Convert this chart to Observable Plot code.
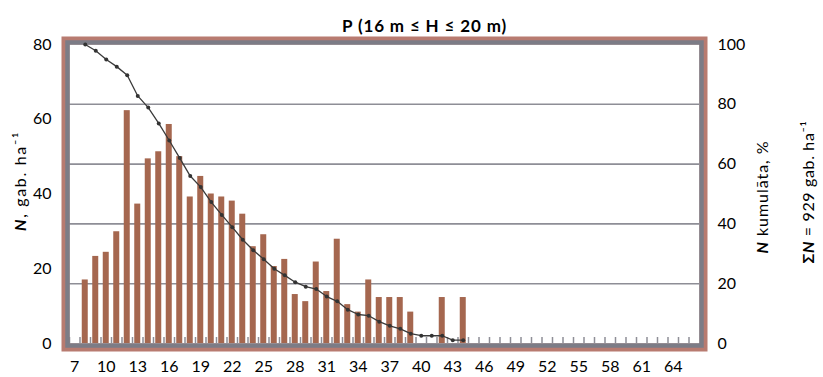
<!DOCTYPE html>
<html><head><meta charset="utf-8">
<script src="https://cdn.jsdelivr.net/npm/d3@7"></script>
<script src="https://cdn.jsdelivr.net/npm/@observablehq/plot@0.6"></script>
<style>
html,body{margin:0;padding:0;background:#fff;}
#chart svg{display:block;}
</style></head><body><div id="chart"></div>
<script>
// Categories (diameter classes, cm) shown on the x axis
const categories = d3.range(7, 67);
const xTickLabels = [7,10,13,16,19,22,25,28,31,34,37,40,43,46,49,52,55,58,61,64];
// Diameter classes with observations
const diameters = [8,9,10,11,12,13,14,15,16,17,18,19,20,21,22,23,24,25,26,27,28,29,30,31,32,33,34,35,36,37,38,39,40,41,42,43,44];
// N, trees per ha (bars)
const countN = [17.0,23.3,24.4,29.9,62.3,37.3,49.4,51.3,58.6,50.0,39.2,44.7,40.0,39.2,38.1,34.6,25.9,29.1,20.6,22.5,13.1,11.2,21.8,13.9,27.9,10.4,8.4,17.0,12.3,12.3,12.3,8.4,0,0,12.3,0,12.3];
// cumulative N, % (line)
const cumulativePct = [100,97.9,95.0,92.6,89.7,82.8,78.9,73.6,67.9,62.0,56.0,52.3,47.3,43.0,38.9,34.7,31.2,28.2,25.0,22.8,20.5,19.0,18.2,15.7,14.1,11.3,9.7,9.3,7.3,5.9,4.9,3.3,2.6,2.6,2.6,1.1,1.1];
const leftTicks = [0,20,40,60,80];
const rightTicks = [0,20,40,60,80,100];
const gridPct = [20,40,60,80];
const title = "P (16 m ≤ H ≤ 20 m)";
const leftTitle = "N, gab. ha⁻¹";
const rightTitle = "N kumulāta, %";
const sumTitle = "ΣN = 929 gab. ha⁻¹";

const k = 80 / 100; // right axis (0–100 %) onto left axis (0–80)
const bars = diameters.map((d, i) => ({d, n: countN[i]})).filter(b => b.n > 0);
const cum = diameters.map((d, i) => ({d, p: cumulativePct[i]}));

const chart = Plot.plot({
  width: 823, height: 377,
  marginTop: 44, marginBottom: 34, marginLeft: 69, marginRight: 124,
  style: {fontFamily: "Lato, 'Open Sans', sans-serif", fontSize: "16px", color: "#000", background: "#fff", overflow: "visible"},
  x: {type: "band", domain: categories, padding: 0, round: false},
  y: {domain: [0, 80]},
  marks: [
    Plot.ruleY(gridPct, {y: d => d * k, stroke: "#8e8e96", strokeWidth: 1.6}),
    Plot.barY(bars, {x: "d", y: "n", fill: "#a5674f", insetLeft: 2.25, insetRight: 2.25}),
    Plot.tickX(categories, {x: d => d, dx: -5.25, stroke: "#8e8e96", strokeWidth: 1.5, insetTop: 293}),
    Plot.frame({stroke: "#b87b70", strokeWidth: 8, inset: -4}),
    Plot.frame({stroke: "#7c7c86", strokeWidth: 4.5, inset: -2}),
    Plot.line(cum, {x: "d", y: d => d.p * k, stroke: "#3a3a3a", strokeWidth: 1.3}),
    Plot.dot(cum, {x: "d", y: d => d.p * k, r: 2, fill: "#333", stroke: "none"}),
    Plot.axisY(leftTicks, {anchor: "left", tickSize: 0, tickPadding: 18, label: null}),
    Plot.axisY(rightTicks.map(d => d * k), {anchor: "right", tickSize: 0, tickPadding: 18, label: null, tickFormat: d => Math.round(d / k)}),
    Plot.axisX(xTickLabels, {anchor: "bottom", tickSize: 0, tickPadding: 17, label: null}),
    Plot.text([title], {text: d => d, frameAnchor: "top", textAnchor: "middle", dx: 40, dy: -25, fontWeight: "bold", fontSize: 17}),
    Plot.text([leftTitle], {text: d => d, frameAnchor: "left", textAnchor: "middle", dx: -49, dy: -13, rotate: -90, fontSize: 16}),
    Plot.text([rightTitle], {text: d => d, frameAnchor: "right", textAnchor: "middle", dx: 63, dy: 3, rotate: -90, fontSize: 16}),
    Plot.text([sumTitle], {text: d => d, frameAnchor: "right", textAnchor: "middle", dx: 109, dy: -2, rotate: -90, fontSize: 16})
  ]
});
document.getElementById("chart").appendChild(chart);

// Make the leading "N" bold italic and match the reference text lengths via letter-spacing
const lengths = new Map([[leftTitle, 100], [rightTitle, 113], [sumTitle, 143], [title, 165]]);
d3.select(chart).selectAll("text").each(function() {
  const t = this.textContent;
  if (!lengths.has(t)) return;
  const sel = d3.select(this);
  let pre = null, rest = null;
  if (t === leftTitle || t === rightTitle) { pre = ""; rest = t.slice(1); }
  else if (t === sumTitle) { pre = "Σ"; rest = t.slice(2); }
  if (pre !== null) {
    sel.text(null);
    if (pre) sel.append("tspan").attr("font-weight", "bold").text(pre);
    sel.append("tspan").attr("font-weight", "bold").attr("font-style", "italic").text("N");
    sel.append("tspan").text(rest);
  }
  const len = this.getComputedTextLength();
  const n = [...t].length;
  const ls = (lengths.get(t) - len) / n;
  sel.style("letter-spacing", ls + "px");
});
</script></body></html>
